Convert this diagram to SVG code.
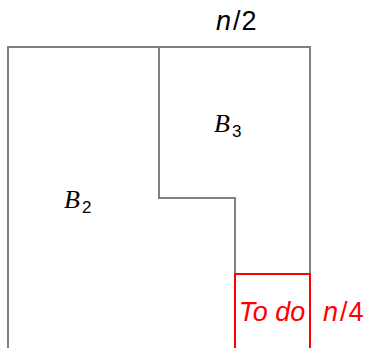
<svg xmlns="http://www.w3.org/2000/svg" width="366" height="348" viewBox="0 0 366 348">
<style>
.g{fill:none;stroke:#808080;stroke-width:2}
.r{fill:none;stroke:#ff0000;stroke-width:2}
.t{font-family:"Liberation Sans",sans-serif;font-size:27px;fill:#000}
.red{fill:#ff0000}
.b{font-family:"Liberation Serif",serif;font-size:26px;font-style:italic;fill:#000}
.s{font-family:"Liberation Sans",sans-serif;font-size:17px;fill:#000}
</style>
<g id="connectors">
<path class="g" d="M8,348 V47 H310 V274 M159,47 V198 H235 V274"/>
</g>
<g id="B2">
<text class="b" x="64" y="208">B</text><text class="s" x="82" y="213">2</text>
</g>
<g id="B3">
<text class="b" x="214" y="132">B</text><text class="s" x="232" y="137">3</text>
</g>
<g id="todo">
<rect class="r" x="235" y="274" width="75" height="80"/>
<text class="t red" x="272" y="321" text-anchor="middle" font-style="italic" font-size="28">To do</text>
</g>
<g id="n2">
<text class="t" x="216" y="30"><tspan font-style="italic">n</tspan><tspan dx="2">/</tspan><tspan dx="1">2</tspan></text>
</g>
<g id="n4">
<text class="t red" x="323" y="321"><tspan font-style="italic">n</tspan><tspan dx="2">/</tspan><tspan dx="1">4</tspan></text>
</g>
</svg>
